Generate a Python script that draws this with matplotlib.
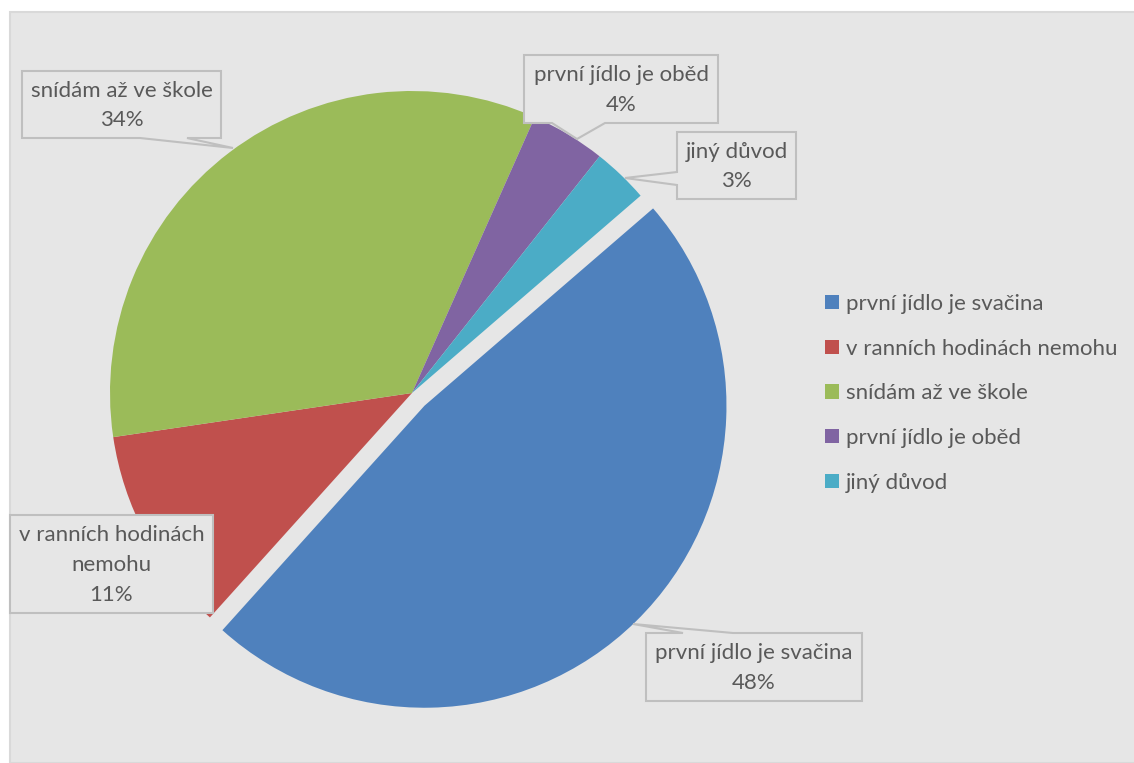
import matplotlib
matplotlib.use("Agg")
import matplotlib.pyplot as plt
from matplotlib.patches import Rectangle, Polygon

plt.rcParams['font.family'] = ['Lato', 'DejaVu Sans']

# data
categories = ["první jídlo je svačina", "v ranních hodinách nemohu",
              "snídám až ve škole", "první jídlo je oběd", "jiný důvod"]
values = [48, 11, 34, 4, 3]
box_texts = ["první jídlo je svačina", "v ranních hodinách\nnemohu",
             "snídám až ve škole", "první jídlo je oběd", "jiný důvod"]
colors = ["#4F81BD", "#C0504D", "#9BBB59", "#8064A2", "#4BACC6"]

W, H = 1134, 763
CX, CY, R = 412, 393, 302   # pie centre / radius in pixels (from top)
FS = 16


def px(x, y):
    # pixel (from top-left) -> data coords
    return (x - CX) / R, (CY - y) / R


fig = plt.figure(figsize=(W / 100, H / 100), dpi=100, facecolor="white")
# chart area panel
fig.patches.append(Rectangle((10 / W, 0), 1.2, 1 - 12 / H, transform=fig.transFigure,
                             facecolor="#E6E6E6", edgecolor="#D9D9D9", lw=1.5, zorder=-1))

ax = fig.add_axes([0, 0, 1, 1])
ax.set_zorder(2)

wedges, _ = ax.pie(values, colors=colors, startangle=40.8, counterclock=False,
                   explode=[0.059, 0, 0, 0, 0], radius=1,
                   wedgeprops=dict(linewidth=0))
ax.set_xlim(-CX / R, (W - CX) / R)
ax.set_ylim(-(H - CY) / R, CY / R)
ax.set_aspect("equal")
ax.axis("off")

# label boxes: (x0, y0, x1, y1), pointer side, base a, base b, tip
boxes = [
    ((646, 633, 862, 701), "top", 683, 733, (633, 624)),
    ((10, 515, 213, 613), None, 0, 0, None),
    ((22, 71, 221, 138), "bottom", 140, 187, (233, 148)),
    ((524, 55, 718, 123), "bottom", 552, 605, (577, 139)),
    ((677, 132, 796, 199), "left", 172, 185, (625, 178)),
]

for (b, side, a, c, tip), txt, v in zip(boxes, box_texts, values):
    x0, y0, x1, y1 = b
    if side == "top":
        pts = [(x0, y0), (a, y0), tip, (c, y0), (x1, y0), (x1, y1), (x0, y1)]
    elif side == "bottom":
        pts = [(x0, y0), (x1, y0), (x1, y1), (c, y1), tip, (a, y1), (x0, y1)]
    elif side == "left":
        pts = [(x0, y0), (x1, y0), (x1, y1), (x0, y1), (x0, c), tip, (x0, a)]
    else:
        pts = [(x0, y0), (x1, y0), (x1, y1), (x0, y1)]
    ax.add_patch(Polygon([px(*p) for p in pts], closed=True, facecolor="#E6E6E6",
                         edgecolor="#BFBFBF", lw=1.5, zorder=3))
    ax.text(*px((x0 + x1) / 2, (y0 + y1) / 2 + 1), f"{txt}\n{v}%", ha="center", va="center",
            fontsize=FS, color="#595959", linespacing=1.6, zorder=4)

leg = ax.legend(wedges, categories, loc="upper left",
                bbox_to_anchor=(825 / W, 1 - 294 / H), bbox_transform=fig.transFigure,
                frameon=False, fontsize=FS, labelcolor="#595959",
                handlelength=0.63, handleheight=0.63, handletextpad=0.3,
                labelspacing=1.11, borderpad=0, borderaxespad=0)

fig.savefig("out.png", dpi=100, facecolor="white")
